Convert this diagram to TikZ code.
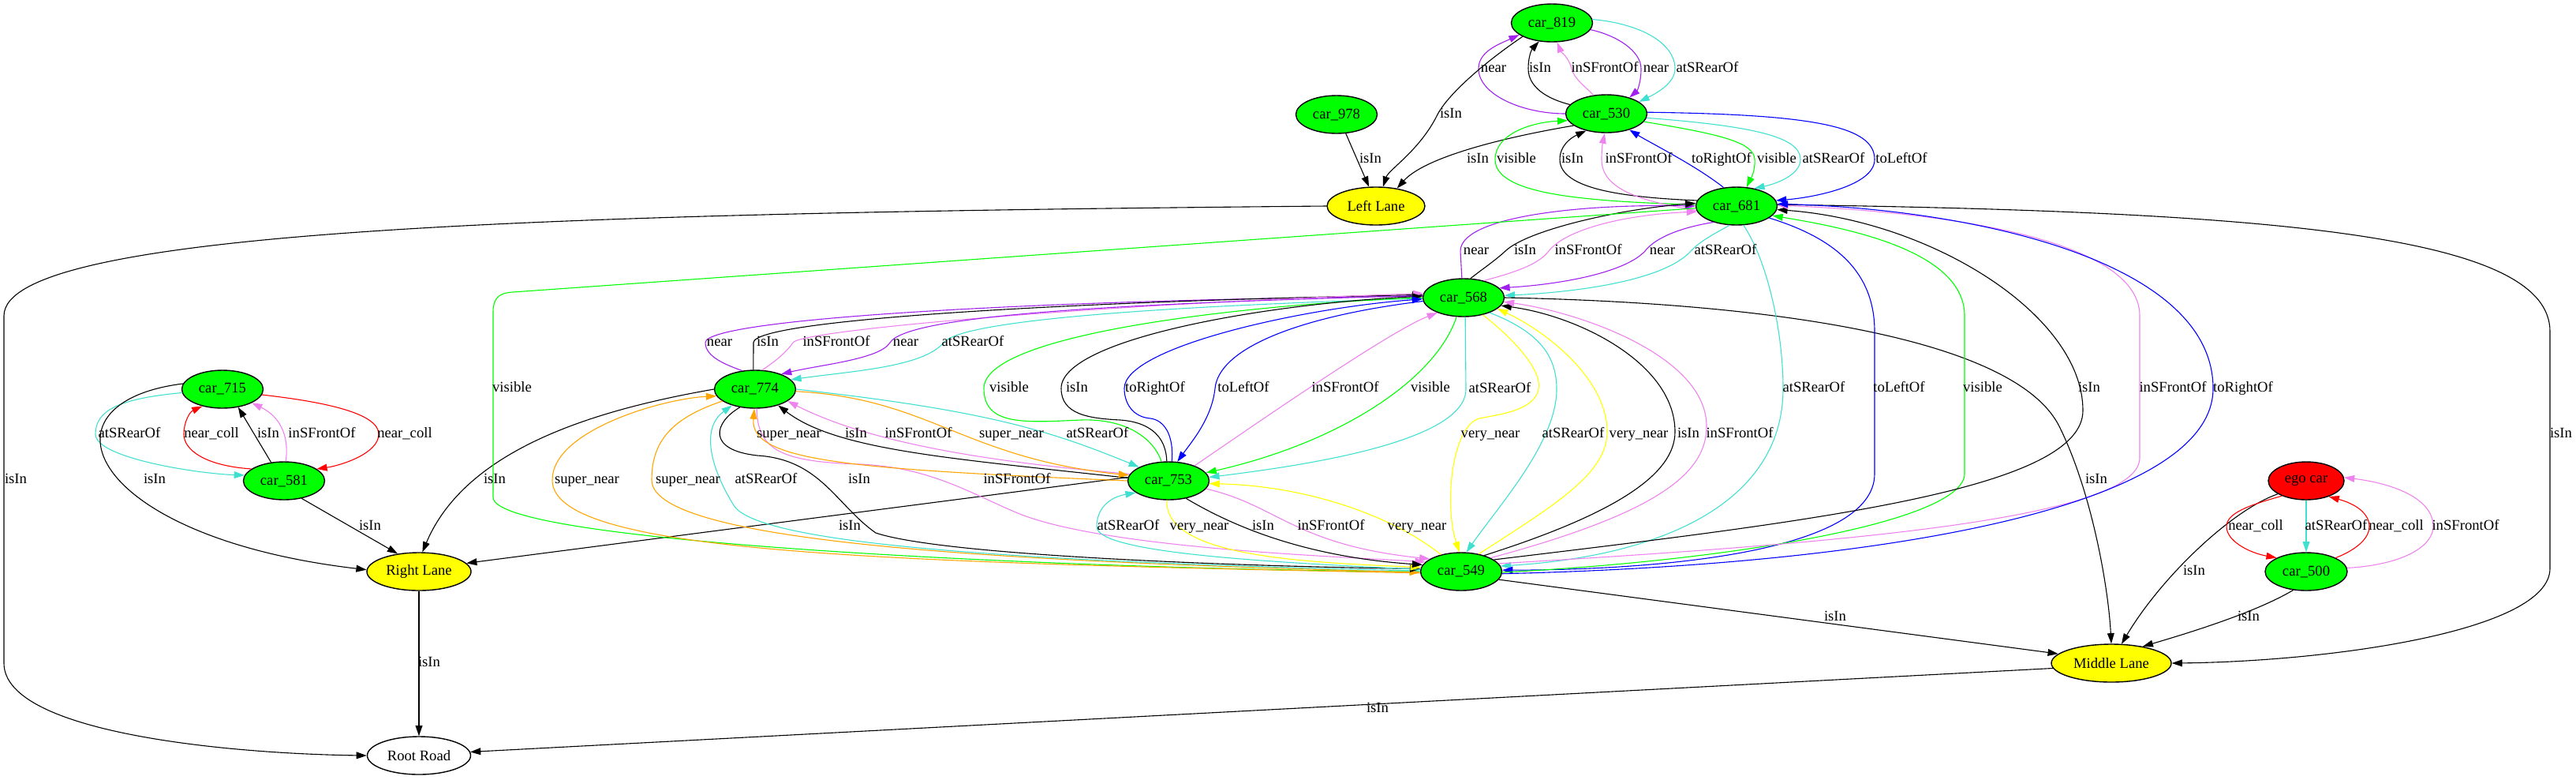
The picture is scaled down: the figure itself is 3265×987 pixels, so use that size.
\documentclass[tikz,border=0pt]{standalone}
\usepackage{fontspec}
\setmainfont{Liberation Serif}
\usetikzlibrary{shapes.geometric,arrows.meta}
\definecolor{gvgreen}{HTML}{00FF00}
\definecolor{gvpurple}{HTML}{A020F0}
\definecolor{gvviolet}{HTML}{EE82EE}
\definecolor{gvturq}{HTML}{40E0D0}
\definecolor{gvorange}{HTML}{FFA500}
\definecolor{gvyellow}{HTML}{FFFF00}
\definecolor{gvblue}{HTML}{0000FF}
\definecolor{gvred}{HTML}{FF0000}
\begin{document}
\begin{tikzpicture}[x=0.5pt,y=-0.5pt,
  every node/.style={font=\fontsize{9.33}{11}\selectfont},
  nd/.style={ellipse,draw=black,line width=0.7pt,inner sep=0pt,minimum height=24pt},
  car/.style={nd,fill=gvgreen,minimum width=51.5pt},
  lane/.style={nd,fill=gvyellow},
  lbl/.style={inner sep=0pt,text height=6.4pt,text depth=1.8pt},
  ed/.style={line width=0.55pt,-{Triangle[length=6.6pt,width=4.4pt]}},
  risin/.style={ed,draw=black},
  rnear/.style={ed,draw=gvpurple},
  rfront/.style={ed,draw=gvviolet},
  rrear/.style={ed,draw=gvturq},
  rvis/.style={ed,draw=gvgreen},
  rdir/.style={ed,draw=gvblue},
  rsuper/.style={ed,draw=gvorange},
  rvery/.style={ed,draw=gvyellow},
  rcoll/.style={ed,draw=gvred}]
\useasboundingbox (0,0) rectangle (3265,987);

% nodes
\node[car] (c819) at (1967,29) {car\_819};
\node[car] (c530) at (2036,144) {car\_530};
\node[car] (c978) at (1694,145) {car\_978};
\node[lane,minimum width=62pt] (LL) at (1744,261) {Left Lane};
\node[car] (c681) at (2201,261) {car\_681};
\node[car] (c568) at (1855,377) {car\_568};
\node[car] (c715) at (282,493) {car\_715};
\node[car] (c774) at (957,493) {car\_774};
\node[car] (c581) at (360,609) {car\_581};
\node[car] (c753) at (1481,609) {car\_753};
\node[nd,fill=gvred,minimum width=48pt] (ego) at (2923,609) {ego car};
\node[lane,minimum width=66pt] (RL) at (531,724) {Right Lane};
\node[car] (c549) at (1852,724) {car\_549};
\node[car,minimum width=52pt] (c500) at (2923,724) {car\_500};
\node[lane,minimum width=76pt] (ML) at (2676,840) {Middle Lane};
\node[nd,fill=white,minimum width=65.5pt] (RR) at (531,957) {Root Road};

% top group
\draw[rnear] (c530.180) .. controls (1930,144) and (1874,120) .. (1874,87) .. controls (1874,65) and (1900,56) .. (c819.200);
\draw[risin] (c530.166) .. controls (1960,125) and (1937,110) .. (1937,87) .. controls (1937,70) and (1942,62) .. (c819.235);
\draw[rfront] (c530.125) .. controls (2010,110) and (1995,100) .. (1992,87) .. controls (1988,72) and (1978,65) .. (c819.285);
\draw[rnear] (c819.-10) .. controls (2050,45) and (2080,65) .. (2080,87) .. controls (2080,105) and (2075,115) .. (c530.35);
\draw[rrear] (c819.5) .. controls (2080,30) and (2123,55) .. (2123,87) .. controls (2123,105) and (2100,118) .. (c530.20);
\draw[risin] (c819.205) .. controls (1880,80) and (1835,120) .. (1822,145) .. controls (1800,190) and (1760,215) .. (LL.70);
\draw[risin] (c978.-64) -- (LL.110);
\draw[risin] (c530.200) .. controls (1900,175) and (1805,200) .. (LL.40);

% rank 1-2
\draw[rvis] (c681.178) .. controls (2000,255) and (1895,245) .. (1895,202) .. controls (1895,170) and (1940,155) .. (c530.190);
\draw[risin] (c681.172) .. controls (2060,250) and (1977,240) .. (1977,202) .. controls (1977,185) and (1990,175) .. (c530.-140);
\draw[rfront] (c681.186) .. controls (2080,255) and (2030,240) .. (2030,202) .. controls (2030,185) and (2032,178) .. (c530.-95);
\draw[rdir] (c681.125) .. controls (2150,210) and (2090,180) .. (c530.-35);
\draw[rvis] (c530.-12) .. controls (2180,170) and (2223,180) .. (2224,202) .. controls (2225,218) and (2218,228) .. (c681.62);
\draw[rrear] (c530.-6) .. controls (2230,160) and (2282,175) .. (2282,202) .. controls (2282,220) and (2255,232) .. (c681.45);
\draw[rdir] (c530.2) .. controls (2300,145) and (2376,160) .. (2376,202) .. controls (2376,235) and (2300,250) .. (c681.8);

% rank 2-3
\draw[rnear] (c568.95) -- (1851,318) .. controls (1851,275) and (2000,258) .. (c681.180);
\draw[risin] (c568.70) .. controls (1880,340) and (1895,330) .. (1908,318) .. controls (1935,292) and (2050,265) .. (c681.176);
\draw[rfront] (c568.40) .. controls (1920,345) and (1950,335) .. (1963,318) .. controls (1985,290) and (2060,272) .. (c681.188);
\draw[rnear] (c681.215) .. controls (2120,290) and (2095,305) .. (2085,318) .. controls (2060,345) and (1980,360) .. (c568.15);
\draw[rrear] (c681.250) .. controls (2175,295) and (2155,305) .. (2143,318) .. controls (2110,355) and (2000,370) .. (c568.3);

% lanes and road
\draw[risin] (LL.180) .. controls (700,270) and (5,290) .. (5,400) -- (5,840) .. controls (5,930) and (300,955) .. (RR.180);
\draw[risin] (RL.-90) -- (RR.90);
\draw[risin] (ML.185) -- (RR.4);
\draw[risin] (c681.2) .. controls (2900,268) and (3232,300) .. (3232,420) -- (3232,720) .. controls (3232,800) and (2950,838) .. (ML.0);
\draw[risin] (c568.0) .. controls (2300,385) and (2560,440) .. (2610,540) .. controls (2650,620) and (2672,740) .. (ML.90);
\draw[risin] (ego.205) .. controls (2830,645) and (2740,730) .. (ML.62);
\draw[risin] (c500.235) .. controls (2860,775) and (2780,800) .. (ML.28);
\draw[risin] (c549.-12) -- (ML.170);

% ego cluster
\draw[rcoll] (ego.212) .. controls (2850,640) and (2822,650) .. (2822,667) .. controls (2822,685) and (2850,700) .. (c500.155);
\draw[rrear] (ego.-90) -- (c500.90);
\draw[rcoll] (c500.25) .. controls (2990,695) and (3003,680) .. (3003,667) .. controls (3003,650) and (2985,638) .. (ego.-35);
\draw[rfront] (c500.5) .. controls (3050,715) and (3084,690) .. (3084,667) .. controls (3084,630) and (3030,612) .. (ego.5);

% left cluster
\draw[rrear] (c715.185) .. controls (150,505) and (121,520) .. (121,550) .. controls (121,580) and (250,600) .. (c581.172);
\draw[rcoll] (c581.160) .. controls (260,590) and (233,570) .. (233,550) .. controls (233,535) and (240,522) .. (c715.-140);
\draw[risin] (c581.125) -- (c715.-49);
\draw[rfront] (c581.85) .. controls (366,560) and (360,530) .. (c715.-25);
\draw[rcoll] (c715.-8) .. controls (420,510) and (480,525) .. (480,550) .. controls (480,575) and (430,590) .. (c581.20);
\draw[risin] (c715.172) .. controls (40,510) and (110,680) .. (RL.178);
\draw[risin] (c581.-45) -- (RL.140);
\draw[risin] (c774.180) .. controls (750,520) and (590,570) .. (RL.80);
\draw[risin] (c753.175) -- (RL.10);

% c774 <-> c568
\draw[rnear] (c774.125) .. controls (920,462) and (894,452) .. (894,434) .. controls (894,404) and (1304,380) .. (c568.178);
\draw[risin] (c774.95) -- (955,434) .. controls (955,405) and (1350,382) .. (c568.176);
\draw[rfront] (c774.70) .. controls (980,460) and (998,445) .. (1005,434) .. controls (1015,418) and (1400,385) .. (c568.174);
\draw[rnear] (c568.177) .. controls (1400,385) and (1150,400) .. (1128,434) .. controls (1115,455) and (1040,462) .. (c774.30);
\draw[rrear] (c568.181) .. controls (1400,390) and (1215,410) .. (1196,434) .. controls (1170,465) and (1080,470) .. (c774.15);

% c753 <-> c568
\draw[rvis] (c753.110) .. controls (1460,550) and (1420,530) .. (1370,532) .. controls (1300,535) and (1247,540) .. (1247,492) .. controls (1247,420) and (1600,385) .. (c568.180);
\draw[risin] (c753.95) .. controls (1478,555) and (1460,535) .. (1420,532) .. controls (1380,530) and (1345,525) .. (1345,492) .. controls (1345,430) and (1600,385) .. (c568.178);
\draw[rdir] (c753.80) .. controls (1488,550) and (1475,532) .. (1458,530) .. controls (1435,528) and (1425,510) .. (1425,492) .. controls (1425,440) and (1650,390) .. (c568.182);
\draw[rdir] (c568.185) .. controls (1650,400) and (1545,440) .. (1540,492) .. controls (1536,530) and (1510,560) .. (c753.65);
\draw[rfront] (c753.30) .. controls (1580,545) and (1760,420) .. (c568.-150);
\draw[rvis] (c568.-110) .. controls (1820,480) and (1700,560) .. (c753.12);
\draw[rrear] (c568.-85) -- (1858,493) .. controls (1858,560) and (1650,590) .. (c753.5);

% c568 <-> c549
\draw[rvery] (c568.-42) .. controls (1920,430) and (1955,470) .. (1950,493) .. controls (1945,520) and (1900,525) .. (1875,530) .. controls (1840,540) and (1830,640) .. (c549.95);
\draw[rrear] (c568.-30) .. controls (1950,420) and (1973,450) .. (1973,493) .. controls (1973,560) and (1900,640) .. (c549.75);
\draw[rvery] (c549.45) .. controls (1970,640) and (2037,600) .. (2037,547) .. controls (2037,480) and (1960,420) .. (c568.-18);
\draw[risin] (c549.35) .. controls (2050,650) and (2123,600) .. (2123,547) .. controls (2123,460) and (2000,400) .. (c568.-12);
\draw[rfront] (c549.25) .. controls (2100,650) and (2163,600) .. (2163,540) .. controls (2163,450) and (2000,395) .. (c568.-6);

% c681 <-> c549
\draw[rrear] (c681.-70) .. controls (2240,330) and (2260,420) .. (2260,492) .. controls (2260,640) and (2100,705) .. (c549.8);
\draw[rdir] (c681.-20) .. controls (2320,300) and (2376,340) .. (2376,420) -- (2376,600) .. controls (2376,700) and (2100,722) .. (c549.2);
\draw[rvis] (c549.-1) .. controls (2200,710) and (2490,660) .. (2490,600) -- (2490,400) .. controls (2490,320) and (2350,290) .. (c681.-15);
\draw[risin] (c549.20) .. controls (2300,660) and (2640,620) .. (2640,520) .. controls (2640,400) and (2450,280) .. (c681.-5);
\draw[rfront] (c549.12) .. controls (2300,690) and (2712,660) .. (2712,580) -- (2712,400) .. controls (2712,300) and (2450,268) .. (c681.1);
\draw[rdir] (c549.-3) .. controls (2400,715) and (2805,640) .. (2805,492) .. controls (2805,330) and (2500,265) .. (c681.3);
\draw[rvis] (c681.183) -- (650,370) .. controls (632,371) and (625,378) .. (625,395) -- (625,630) .. controls (625,690) and (1400,722) .. (c549.180);

% c774 <-> c549
\draw[rsuper] (c549.182) .. controls (1100,712) and (700,700) .. (700,608) .. controls (700,545) and (840,505) .. (c774.190);
\draw[rsuper] (c774.200) .. controls (850,530) and (826,560) .. (826,608) .. controls (826,690) and (1300,712) .. (c549.181);
\draw[rrear] (c549.179) .. controls (1300,712) and (960,690) .. (930,640) .. controls (905,600) and (885,545) .. (c774.215);
\draw[risin] (c774.-130) .. controls (905,535) and (895,570) .. (960,577) .. controls (1040,582) and (1060,640) .. (1110,675) .. controls (1200,705) and (1600,718) .. (c549.176);
\draw[rfront] (c774.-85) .. controls (960,570) and (990,585) .. (1090,588) .. controls (1180,592) and (1230,625) .. (1290,650) .. controls (1400,695) and (1700,705) .. (c549.165);

% c753 <-> c549
\draw[rrear] (c549.177) .. controls (1600,712) and (1390,700) .. (1390,667) .. controls (1390,645) and (1405,630) .. (c753.-160);
\draw[rvery] (c753.-95) .. controls (1476,705) and (1650,712) .. (c549.174);
\draw[risin] (c753.-45) .. controls (1560,665) and (1650,705) .. (c549.170);
\draw[rfront] (c753.-12) .. controls (1620,640) and (1640,690) .. (c549.158);
\draw[rvery] (c549.140) .. controls (1760,650) and (1650,615) .. (c753.-4);

% c774 <-> c753
\draw[rsuper] (c753.180) .. controls (1080,594) and (950,585) .. (c774.-92);
\draw[risin] (c753.176) .. controls (1200,580) and (1060,570) .. (c774.-35);
\draw[rfront] (c753.170) .. controls (1250,585) and (1100,560) .. (c774.-20);
\draw[rsuper] (c774.-3) .. controls (1180,505) and (1220,580) .. (c753.172);
\draw[rrear] (c774.0) .. controls (1250,520) and (1330,545) .. (c753.155);

% labels
\node[lbl] (l1) at (1893,87) {near};
\node[lbl] (l2) at (1952,87) {isIn};
\node[lbl] (l3) at (2034,87) {inSFrontOf};
\node[lbl] (l4) at (2099,87) {near};
\node[lbl] (l5) at (2164,87) {atSRearOf};
\node[lbl] (l6) at (1839,145) {isIn};
\node[lbl] (l7) at (1737,202) {isIn};
\node[lbl] (l8) at (1873,202) {isIn};
\node[lbl] (l9) at (1922,202) {visible};
\node[lbl] (l10) at (1993,202) {isIn};
\node[lbl] (l11) at (2077,202) {inSFrontOf};
\node[lbl] (l12) at (2182,202) {toRightOf};
\node[lbl] (l13) at (2252,202) {visible};
\node[lbl] (l14) at (2324,202) {atSRearOf};
\node[lbl] (l15) at (2410,202) {toLeftOf};
\node[lbl] (l16) at (1871,318) {near};
\node[lbl] (l17) at (1933,318) {isIn};
\node[lbl] (l18) at (2013,318) {inSFrontOf};
\node[lbl] (l19) at (2107,318) {near};
\node[lbl] (l20) at (2187,318) {atSRearOf};
\node[lbl] (l21) at (912,434) {near};
\node[lbl] (l22) at (973,434) {isIn};
\node[lbl] (l23) at (1060,434) {inSFrontOf};
\node[lbl] (l24) at (1148,434) {near};
\node[lbl] (l25) at (1233,434) {atSRearOf};
\node[lbl] (l26) at (649,492) {visible};
\node[lbl] (l27) at (1279,492) {visible};
\node[lbl] (l28) at (1365,492) {isIn};
\node[lbl] (l29) at (1464,492) {toRightOf};
\node[lbl] (l30) at (1576,492) {toLeftOf};
\node[lbl] (l31) at (1705,492) {inSFrontOf};
\node[lbl] (l32) at (1813,492) {visible};
\node[lbl] (l33) at (1901,493) {atSRearOf};
\node[lbl] (l34) at (2299,492) {atSRearOf};
\node[lbl] (l35) at (2407,492) {toLeftOf};
\node[lbl] (l36) at (2513,492) {visible};
\node[lbl] (l37) at (2648,492) {isIn};
\node[lbl] (l38) at (2754,492) {inSFrontOf};
\node[lbl] (l39) at (2843,492) {toRightOf};
\node[lbl] (l40) at (164,550) {atSRearOf};
\node[lbl] (l41) at (268,550) {near\_coll};
\node[lbl] (l42) at (340,550) {isIn};
\node[lbl] (l43) at (408,550) {inSFrontOf};
\node[lbl] (l44) at (513,550) {near\_coll};
\node[lbl] (l45) at (1000,550) {super\_near};
\node[lbl] (l46) at (1085,550) {isIn};
\node[lbl] (l47) at (1164,550) {inSFrontOf};
\node[lbl] (l48) at (1282,550) {super\_near};
\node[lbl] (l49) at (1391,550) {atSRearOf};
\node[lbl] (l50) at (1889,550) {very\_near};
\node[lbl] (l51) at (1994,550) {atSRearOf};
\node[lbl] (l52) at (2077,550) {very\_near};
\node[lbl] (l53) at (2140,550) {isIn};
\node[lbl] (l54) at (2205,550) {inSFrontOf};
\node[lbl] (l55) at (3246,550) {isIn};
\node[lbl] (l56) at (20,608) {isIn};
\node[lbl] (l57) at (196,608) {isIn};
\node[lbl] (l58) at (627,608) {isIn};
\node[lbl] (l59) at (744,608) {super\_near};
\node[lbl] (l60) at (872,608) {super\_near};
\node[lbl] (l61) at (971,608) {atSRearOf};
\node[lbl] (l62) at (1089,608) {isIn};
\node[lbl] (l63) at (1289,608) {inSFrontOf};
\node[lbl] (l64) at (2657,608) {isIn};
\node[lbl] (l65) at (469,667) {isIn};
\node[lbl] (l66) at (1077,667) {isIn};
\node[lbl] (l67) at (1430,667) {atSRearOf};
\node[lbl] (l68) at (1520,667) {very\_near};
\node[lbl] (l69) at (1601,667) {isIn};
\node[lbl] (l70) at (1687,667) {inSFrontOf};
\node[lbl] (l71) at (1796,667) {very\_near};
\node[lbl] (l72) at (2859,667) {near\_coll};
\node[lbl] (l73) at (2961,667) {atSRearOf};
\node[lbl] (l74) at (3037,667) {near\_coll};
\node[lbl] (l75) at (3125,667) {inSFrontOf};
\node[lbl] (l76) at (2781,724) {isIn};
\node[lbl] (l77) at (2326,782) {isIn};
\node[lbl] (l78) at (2850,782) {isIn};
\node[lbl] (l79) at (544,840) {isIn};
\node[lbl] (l80) at (1746,898) {isIn};
\end{tikzpicture}
\end{document}
